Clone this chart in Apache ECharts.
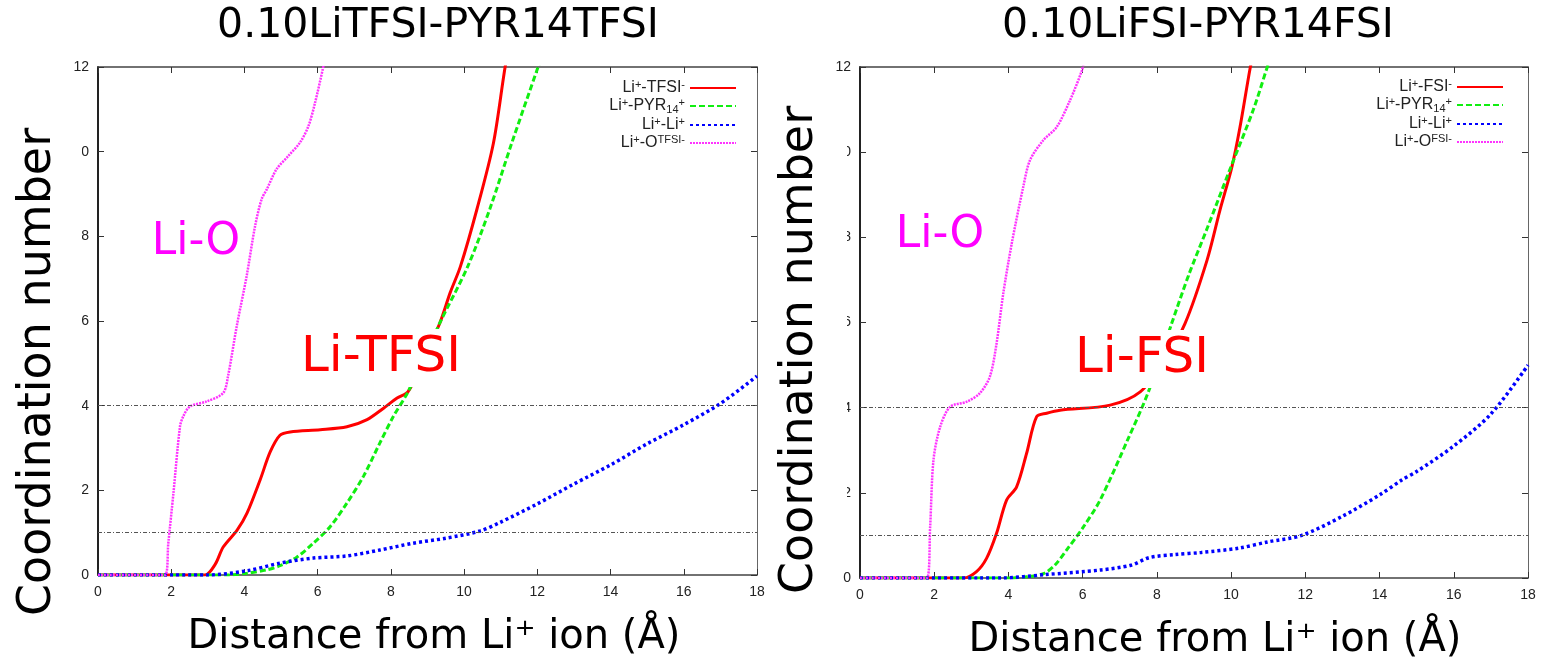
<!DOCTYPE html>
<html>
<head>
<meta charset="utf-8">
<script src="https://cdn.jsdelivr.net/npm/echarts@6/dist/echarts.min.js"></script>
<style>html,body{margin:0;padding:0;background:#fff}#chart{width:1543px;height:667px}</style>
</head>
<body>
<div id="chart"></div>
<script>
// titles / axis names
var titles = ['0.10LiTFSI-PYR14TFSI', '0.10LiFSI-PYR14FSI'];
var yName = 'Coordination number';
var xName = 'Distance from Li\u207A ion (\u00C5)';

// ---- 0.10LiTFSI-PYR14TFSI ----
var tfsiAnX  = [0, 2.92, 3.2, 3.42, 3.8, 4.07, 4.43, 4.7, 4.97, 5.25, 6.07, 6.8, 7.35, 7.8, 8.17, 8.47, 8.9, 9.34, 9.62, 9.9, 10.35, 10.8, 11.12, 11.2];
var tfsiAnY  = [0, 0, 0.25, 0.66, 1.06, 1.46, 2.25, 2.9, 3.3, 3.38, 3.43, 3.5, 3.67, 3.94, 4.18, 4.33, 5.1, 5.96, 6.67, 7.29, 8.64, 10.2, 12, 12.3];
var tfsiPyrX = [0, 3.5, 4.07, 4.6, 4.97, 5.43, 5.88, 6.34, 6.8, 7.25, 7.7, 8.07, 8.47, 9.34, 10.1, 10.7, 11.3, 12.02, 12.1];
var tfsiPyrY = [0, 0, 0.04, 0.12, 0.22, 0.42, 0.75, 1.14, 1.7, 2.33, 3.12, 3.75, 4.33, 5.96, 7.29, 8.64, 10.2, 12, 12.2];
var tfsiLiX  = [0, 3, 4.07, 4.97, 5.88, 6.8, 7.7, 8.6, 9.5, 10.44, 11, 12, 13, 14, 15, 16, 17, 18];
var tfsiLiY  = [0, 0, 0.1, 0.28, 0.4, 0.45, 0.59, 0.75, 0.87, 1.04, 1.25, 1.68, 2.15, 2.6, 3.1, 3.55, 4.05, 4.7];
var tfsiOX   = [0, 1.83, 1.92, 2.06, 2.24, 2.33, 2.51, 2.97, 3.42, 3.55, 3.79, 4.06, 4.29, 4.47, 4.61, 4.88, 5.2, 5.52, 5.75, 5.93, 6.14, 6.2];
var tfsiOY   = [0, 0, 0.75, 1.93, 3.51, 3.75, 3.98, 4.1, 4.3, 4.69, 5.88, 7.06, 8.24, 8.88, 9.11, 9.59, 9.9, 10.22, 10.61, 11.16, 11.95, 12.2];

// ---- 0.10LiFSI-PYR14FSI ----
var fsiAnX  = [0, 2.79, 3.14, 3.41, 3.68, 3.95, 4.22, 4.49, 4.76, 5.03, 5.39, 6.74, 7.55, 8.2, 8.76, 9.35, 9.7, 10.02, 10.24, 10.51, 10.6];
var fsiAnY  = [0, 0, 0.15, 0.46, 1.05, 1.83, 2.14, 2.93, 3.79, 3.87, 3.94, 4.06, 4.37, 5.1, 5.98, 7.46, 8.64, 9.65, 10.59, 11.96, 12.3];
var fsiPyrX = [0, 4.0, 4.5, 4.94, 5.25, 5.57, 6.02, 6.47, 7.23, 7.77, 8.4, 8.85, 9.35, 9.97, 10.6, 10.96, 11.05];
var fsiPyrY = [0, 0, 0.03, 0.1, 0.3, 0.66, 1.2, 1.83, 3.28, 4.37, 5.98, 7.1, 8.2, 9.6, 11.0, 11.96, 12.2];
var fsiLiX  = [0, 3.8, 5, 6.5, 7.3, 7.8, 8.5, 9.2, 10.2, 11, 11.9, 13, 14, 14.6, 15, 16, 17, 18];
var fsiLiY  = [0, 0, 0.08, 0.19, 0.3, 0.48, 0.55, 0.6, 0.7, 0.85, 1.0, 1.45, 1.95, 2.3, 2.5, 3.1, 3.85, 5.0];
var fsiOX   = [0, 1.8, 1.89, 1.98, 2.16, 2.43, 2.88, 3.23, 3.5, 3.68, 3.86, 4.09, 4.4, 4.58, 4.94, 5.3, 5.66, 5.98, 6.05];
var fsiOY   = [0, 0, 1.2, 2.77, 3.55, 4.02, 4.14, 4.34, 4.73, 5.51, 6.68, 7.86, 9.19, 9.81, 10.28, 10.59, 11.22, 11.92, 12.2];

// reference levels (dotted horizontal lines)
var refLevels = [4, 1];

// legend names and their rich-text labels
var tfsiNames = ['Li+-TFSI-', 'Li+-PYR14+', 'Li+-Li+', 'Li+-O(TFSI-)'];
var fsiNames = ['Li+-FSI-', 'Li+-PYR14+ (FSI)', 'Li+-Li+ (FSI)', 'Li+-O(FSI-)'];
var legendLabels = {
    'Li+-TFSI-': '{t|Li}{p|+}{t|-TFSI}{p|-}',
    'Li+-PYR14+': '{t|Li}{p|+}{t|-PYR}{b|14}{p|+}',
    'Li+-Li+': '{t|Li}{p|+}{t|-Li}{p|+}',
    'Li+-O(TFSI-)': '{t|Li}{p|+}{t|-O}{p|TFSI-}',
    'Li+-FSI-': '{t|Li}{p|+}{t|-FSI}{p|-}',
    'Li+-PYR14+ (FSI)': '{t|Li}{p|+}{t|-PYR}{b|14}{p|+}',
    'Li+-Li+ (FSI)': '{t|Li}{p|+}{t|-Li}{p|+}',
    'Li+-O(FSI-)': '{t|Li}{p|+}{t|-O}{p|FSI-}'
};

function pairs(xs, ys) {
    return xs.map(function (x, i) { return [x, ys[i]]; });
}

var styles = [
    { color: '#ff0000', width: 3, type: 'solid' },
    { color: '#11ee11', width: 3, type: [6, 3] },
    { color: '#0000ff', width: 3.5, type: [3, 3] },
    { color: '#ff33ff', width: 2.5, type: [2, 1] }
];

function line(name, xs, ys, k, idx) {
    return {
        name: name,
        type: 'line',
        xAxisIndex: idx * 2,
        yAxisIndex: idx * 2,
        data: pairs(xs, ys),
        symbol: 'none',
        smooth: 0.3,
        color: styles[k].color,
        lineStyle: styles[k],
        z: 3
    };
}

var series = [
    line(tfsiNames[0], tfsiAnX, tfsiAnY, 0, 0),
    line(tfsiNames[1], tfsiPyrX, tfsiPyrY, 1, 0),
    line(tfsiNames[2], tfsiLiX, tfsiLiY, 2, 0),
    line(tfsiNames[3], tfsiOX, tfsiOY, 3, 0),
    line(fsiNames[0], fsiAnX, fsiAnY, 0, 1),
    line(fsiNames[1], fsiPyrX, fsiPyrY, 1, 1),
    line(fsiNames[2], fsiLiX, fsiLiY, 2, 1),
    line(fsiNames[3], fsiOX, fsiOY, 3, 1)
];
// dotted reference lines
[2, 6].forEach(function (i) {
    series[i].markLine = {
        silent: true,
        symbol: 'none',
        label: { show: false },
        lineStyle: { color: '#555', width: 1, type: [4, 2, 1, 2] },
        data: refLevels.map(function (v) { return { yAxis: v }; })
    };
});

function xAx(grid, top) {
    return {
        type: 'value', gridIndex: grid, position: top ? 'top' : 'bottom',
        min: 0, max: 18, interval: 2,
        axisLine: { onZero: false, lineStyle: { color: '#444', width: 1.5 } },
        axisTick: { inside: true, length: 6, lineStyle: { color: '#333' } },
        axisLabel: { show: !top, margin: 10, color: '#222', fontSize: 14, fontFamily: 'Liberation Sans' },
        splitLine: { show: false }
    };
}
function yAx(grid, right) {
    return {
        type: 'value', gridIndex: grid, position: right ? 'right' : 'left',
        min: 0, max: 12, interval: 2,
        axisLine: { show: true, onZero: false, lineStyle: { color: right ? '#666' : '#222', width: right ? 1 : 2 } },
        axisTick: { show: true, inside: true, length: 6, lineStyle: { color: '#333' } },
        axisLabel: { show: !right, margin: 9, color: '#222', fontSize: 14, fontFamily: 'Liberation Sans' },
        splitLine: { show: false }
    };
}

var rich = {
    t: { fontSize: 16, lineHeight: 18, color: '#222', fontFamily: 'Liberation Sans' },
    p: { fontSize: 11, lineHeight: 10, verticalAlign: 'top', color: '#222', fontFamily: 'Liberation Sans' },
    b: { fontSize: 11, lineHeight: 10, verticalAlign: 'bottom', color: '#222', fontFamily: 'Liberation Sans' }
};
function legend(names, right, top) {
    return {
        data: names, orient: 'vertical', align: 'right', right: right, top: top,
        itemWidth: 46, itemHeight: 14, itemGap: 1, selectedMode: false,
        itemStyle: { opacity: 0, borderWidth: 0 },
        formatter: function (n) { return legendLabels[n]; },
        textStyle: { rich: rich }
    };
}

var bigFont = 'DejaVu Sans';
function txt(x, y, text, size, color, rot, bg) {
    return {
        type: 'text', x: x, y: y, rotation: rot || 0, z: 101,
        style: {
            text: text, fill: color, font: size + 'px "' + bigFont + '"',
            textAlign: 'center', textVerticalAlign: 'middle',
            backgroundColor: bg ? '#fff' : null, padding: bg ? [4, 2] : 0
        }
    };
}

var option = {
    backgroundColor: '#fff',
    animation: false,
    grid: [
        { left: 98, right: 786, top: 67, bottom: 92 },
        { left: 860, right: 15, top: 67, bottom: 89 }
    ],
    xAxis: [xAx(0, false), xAx(0, true), xAx(1, false), xAx(1, true)],
    yAxis: [yAx(0, false), yAx(0, true), yAx(1, false), yAx(1, true)],
    legend: [legend(tfsiNames, 801, 74), legend(fsiNames, 34, 73)],
    series: series,
    graphic: [
        // white boxes that crop the left side of some tick labels, as in the source image
        { type: 'rect', z: 100, shape: { x: 10, y: 88, width: 72, height: 470 }, style: { fill: '#fff' } },
        { type: 'rect', z: 100, shape: { x: 772, y: 88, width: 75, height: 425 }, style: { fill: '#fff' } },
        txt(438, 26, titles[0], 41, '#000'),
        txt(1198, 26, titles[1], 41, '#000'),
        txt(38, 372, yName, 46, '#000', Math.PI / 2),
        txt(800, 350, yName, 46, '#000', Math.PI / 2),
        txt(434, 638, xName, 40, '#000'),
        txt(1215, 641, xName, 40, '#000'),
        txt(196, 243, 'Li-O', 44, '#ff00ff', 0, true),
        txt(381, 358, 'Li-TFSI', 50, '#ff0000', 0, true),
        txt(940, 236, 'Li-O', 44, '#ff00ff', 0, true),
        txt(1142, 359, 'Li-FSI', 50, '#ff0000', 0, true)
    ]
};

var chart = echarts.init(document.getElementById('chart'));
chart.setOption(option);
</script>
</body>
</html>
